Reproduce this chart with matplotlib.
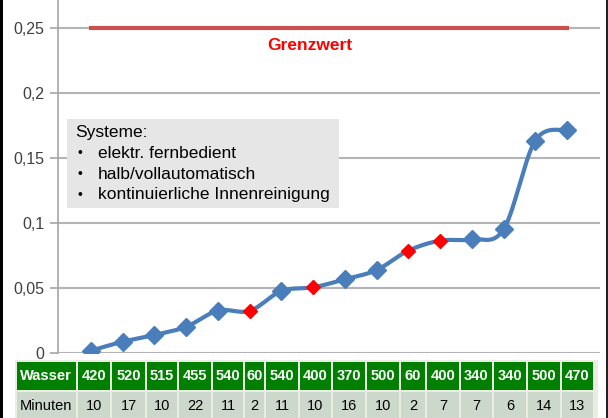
import matplotlib
matplotlib.use("Agg")
import matplotlib.pyplot as plt
from matplotlib.patches import Rectangle
import numpy as np

plt.rcParams['font.family'] = ['Liberation Sans', 'DejaVu Sans']

# data
werte = [0.0018, 0.0087, 0.0138, 0.0202, 0.0326, 0.0324, 0.0477, 0.0505,
         0.0567, 0.0638, 0.0787, 0.0864, 0.0874, 0.0950, 0.1633, 0.1715]
rote_punkte = [5, 7, 10, 11]
grenzwert = 0.25
wasser = [420, 520, 515, 455, 540, 60, 540, 400, 370, 500, 60, 400, 340, 340, 500, 470]
minuten = [10, 17, 10, 22, 11, 2, 11, 10, 16, 10, 2, 7, 7, 6, 14, 13]
y_ticks = [0, 0.05, 0.1, 0.15, 0.2, 0.25]
y_labels = ["0", "0,05", "0,1", "0,15", "0,2", "0,25"]
systeme = ["elektr. fernbedient", "halb/vollautomatisch", "kontinuierliche Innenreinigung"]

W, H = 608, 418
fig = plt.figure(figsize=(W / 100, H / 100), dpi=100)
fig.patch.set_facecolor('white')

# main plot area in pixels: x 58..600, y 0..353
ax = fig.add_axes([58 / W, (H - 353) / H, (600 - 58) / W, 353 / H])
x = np.arange(len(werte))
ax.set_xlim(-1.04, 16.04)
ax.set_ylim(0, 0.2715)

for s in ['top', 'right', 'bottom']:
    ax.spines[s].set_visible(False)
ax.spines['left'].set_color('#a6a6a6')
ax.spines['left'].set_linewidth(1.2)
ax.set_xticks([])
ax.set_yticks(y_ticks)
ax.set_yticklabels(y_labels, fontsize=11.5, color='#404040')
ax.tick_params(axis='y', length=6, color='#a6a6a6', width=1.2, pad=4)
ax.grid(axis='y', color='#b4b4b4', linewidth=1.5)
ax.set_axisbelow(True)


# smoothed line (Bezier with Excel-like control points)
def smooth(xs, ys, n=30):
    xs = np.asarray(xs, float)
    ys = np.asarray(ys, float)
    px, py = [], []
    for i in range(len(xs) - 1):
        i0 = max(i - 1, 0)
        i3 = min(i + 2, len(xs) - 1)
        c1x = xs[i] + (xs[i + 1] - xs[i0]) / 6
        c1y = ys[i] + (ys[i + 1] - ys[i0]) / 6
        c2x = xs[i + 1] - (xs[i3] - xs[i]) / 6
        c2y = ys[i + 1] - (ys[i3] - ys[i]) / 6
        t = np.linspace(0, 1, n)
        px.extend((1 - t) ** 3 * xs[i] + 3 * (1 - t) ** 2 * t * c1x + 3 * (1 - t) * t ** 2 * c2x + t ** 3 * xs[i + 1])
        py.extend((1 - t) ** 3 * ys[i] + 3 * (1 - t) ** 2 * t * c1y + 3 * (1 - t) * t ** 2 * c2y + t ** 3 * ys[i + 1])
    return px, py


sx, sy = smooth(x, werte)
ax.plot(sx, sy, color='#4a7ebb', linewidth=3, solid_capstyle='round', zorder=3)
blau = [i for i in x if i not in rote_punkte]
ax.plot(blau, [werte[i] for i in blau], linestyle='none', marker='D', markersize=9,
        color='#4a7ebb', markeredgecolor='#4a7ebb', zorder=4)
ax.plot(rote_punkte, [werte[i] for i in rote_punkte], linestyle='none', marker='D',
        markersize=7.5, color='#ff0000', markeredgecolor='#ff0000', zorder=4)

# Grenzwert
ax.plot([x[0], x[-1]], [grenzwert, grenzwert], color='#c9504d', linewidth=3, zorder=3)
ax.text(6.9, 0.2365, "Grenzwert", color='#ff0000', fontsize=12.5, fontweight='bold',
        ha='center', va='center')

# text box
fig.patches.append(Rectangle((67, H - 208), 339 - 67, 208 - 119, transform=None,
                             facecolor='#e6e6e6', edgecolor='none', zorder=5))
fig.text(75 / W, 1 - 132 / H, "Systeme:", fontsize=12.5, va='center', zorder=6)
for k, s in enumerate(systeme):
    yy = 1 - (153.5 + k * 20.5) / H
    fig.text(77 / W, yy, "\u2022", fontsize=10, va='center', zorder=6)
    fig.text(98 / W, yy, s, fontsize=12.5, va='center', zorder=6)

# table below the chart
tab = fig.add_axes([0, 0, 1, 65 / H])
tab.set_xlim(0, W)
tab.set_ylim(H, 353)
tab.axis('off')
spalten = [61, 34, 35, 32, 34, 32, 21, 34, 33, 34, 34, 26, 34, 33, 34, 34, 33]
tab.add_patch(Rectangle((15, 360), 583, 60, facecolor='#eaeee2', edgecolor='none'))
x0 = 17
zeilen = [("Wasser", wasser, '#007f00', 'white', 'bold', 362, 28),
          ("Minuten", minuten, '#cdd8cc', 'black', 'normal', 392, 28)]
for label, werte_zeile, fc, tc, fw, y0, h in zeilen:
    xl = x0
    for j, w in enumerate(spalten):
        tab.add_patch(Rectangle((xl, y0), w - 2, h, facecolor=fc, edgecolor='none'))
        if j == 0:
            tab.text(xl + 3, y0 + h / 2, label, color=tc, fontweight=fw, fontsize=10.5,
                     ha='left', va='center')
        else:
            tab.text(xl + (w - 2) / 2, y0 + h / 2, str(werte_zeile[j - 1]), color=tc,
                     fontweight=fw, fontsize=10.5, ha='center', va='center')
        xl += w

# dark frame edges
fig.patches.append(Rectangle((0, 0), 3, H, transform=None, facecolor='black', edgecolor='none'))
fig.patches.append(Rectangle((W - 2, 0), 2, H, transform=None, facecolor='#222222', edgecolor='none'))

fig.savefig("out.png", dpi=100)
